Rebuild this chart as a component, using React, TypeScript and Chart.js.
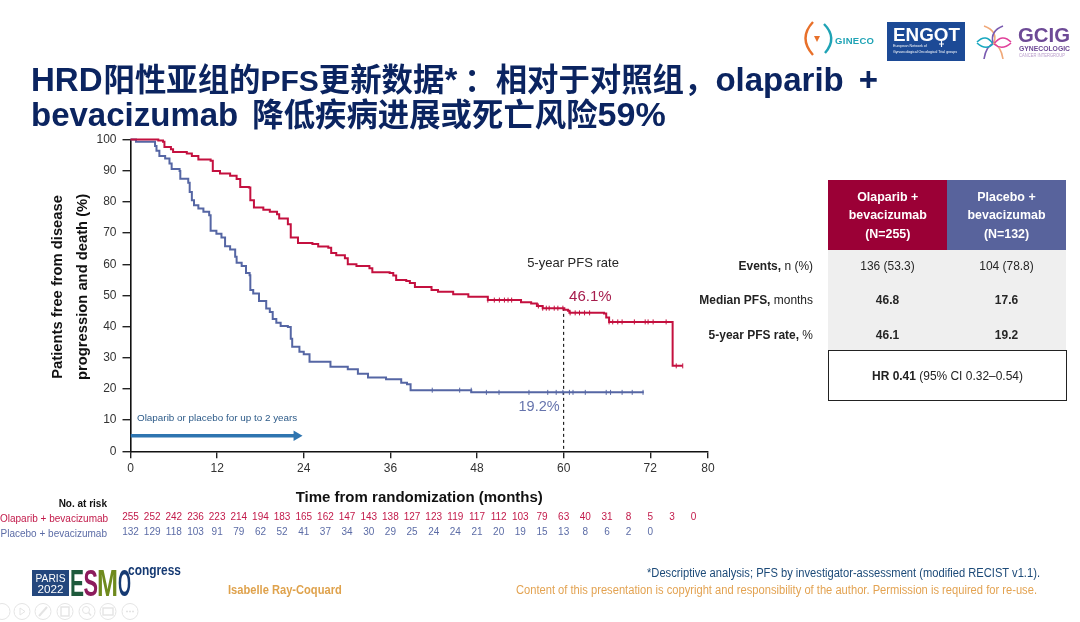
import React, { useEffect, useRef } from "react";
import { Chart, registerables } from "chart.js";

Chart.register(...registerables);

const SANS = '"Liberation Sans", Arial, "Noto Sans CJK SC", sans-serif';

const olaparibMonths = [0, 3.4, 3.85, 4.5, 4.7, 5.6, 5.9, 7.8, 8.5, 9.4, 11.1, 11.4, 12.4, 13.8, 14.7, 15.2, 16.4, 16.6, 17.1, 18.4, 19.3, 20.3, 20.6, 21.8, 22.2, 23.2, 25.2, 26.0, 27.4, 27.8, 28.5, 29.7, 30.1, 31.3, 33.1, 33.5, 35.9, 36.4, 36.8, 38.2, 38.7, 39.4, 41.7, 42.6, 44.7, 46.8, 49.5, 54.1, 55.5, 56.3, 57.1, 60.1, 60.6, 60.8, 65.6, 65.9, 66.3, 75.1, 76.5];
const olaparibValues = [100, 100, 99.7, 99.3, 97.6, 96.9, 96.0, 95.5, 94.7, 93.6, 93.2, 89.9, 89.1, 88.4, 87.3, 84.8, 84.6, 80.5, 78.2, 77.5, 76.8, 76.0, 74.7, 72.8, 68.6, 66.8, 66.5, 65.7, 65.3, 63.6, 62.9, 61.9, 60.0, 59.4, 58.7, 57.4, 57.2, 56.4, 54.9, 54.6, 54.0, 52.7, 51.7, 51.2, 50.4, 49.6, 48.5, 47.8, 47.4, 46.6, 45.9, 45.4, 45.1, 44.4, 44.2, 42.9, 41.5, 27.4, 27.4];
const placeboMonths = [0, 0.76, 3.4, 3.6, 4.0, 4.8, 5.4, 5.7, 6.8, 6.9, 8.0, 8.2, 8.5, 8.8, 9.4, 10.1, 10.9, 11.1, 11.9, 12.6, 13.1, 13.8, 14.5, 14.7, 15.4, 16.0, 16.5, 16.6, 17.0, 17.8, 18.8, 19.3, 19.7, 20.2, 20.8, 21.8, 22.2, 22.4, 23.4, 24.0, 24.8, 27.7, 30.1, 31.5, 32.9, 35.4, 37.5, 38.3, 38.8, 47.2, 71.1];
const placeboValues = [100, 99.3, 97.9, 96.4, 94.7, 93.9, 92.3, 90.5, 89.9, 87.4, 86.1, 83.2, 80.5, 78.9, 77.9, 76.8, 75.7, 70.7, 69.8, 68.6, 65.8, 64.7, 62.4, 60.5, 59.4, 57.2, 56.5, 51.7, 50.6, 48.2, 45.8, 44.7, 42.4, 41.2, 40.2, 39.9, 36.1, 33.5, 31.9, 31.1, 28.7, 27.1, 26.3, 24.9, 23.7, 23.1, 22.0, 21.5, 19.6, 18.9, 18.9];

const olaparibCensorMonths = [49.5, 50.4, 51.1, 51.8, 52.3, 52.8, 56.5, 57.1, 57.6, 58.0, 58.7, 59.2, 59.9, 60.9, 61.6, 62.2, 62.9, 63.6, 66.3, 66.8, 67.5, 68.1, 69.8, 71.3, 71.7, 72.4, 74.2, 75.6, 76.5];
const olaparibCensorValues = [48.5, 48.5, 48.5, 48.5, 48.5, 48.5, 46.6, 45.9, 45.9, 45.9, 45.9, 45.9, 45.9, 44.4, 44.4, 44.4, 44.4, 44.4, 41.5, 41.5, 41.5, 41.5, 41.5, 41.5, 41.5, 41.5, 41.5, 27.4, 27.4];
const placeboCensorMonths = [41.8, 45.6, 47.2, 49.3, 51.05, 55.2, 57.8, 58.97, 59.9, 60.8, 61.3, 63.0, 65.9, 66.5, 68.1, 69.5, 71.0];
const placeboCensorValues = [19.6, 19.6, 19.6, 18.9, 18.9, 18.9, 18.9, 18.9, 18.9, 18.9, 18.9, 18.9, 18.9, 18.9, 18.9, 18.9, 18.9];

const xTickValues = [0, 12, 24, 36, 48, 60, 72, 80];
const landmarkMonths = [60, 60];
const landmarkValues = [46, 0];
const treatmentMonths = [0, 23.0];
const treatmentValues = [5, 5];

const atRiskMonths = [0, 3, 6, 9, 12, 15, 18, 21, 24, 27, 30, 33, 36, 39, 42, 45, 48, 51, 54, 57, 60, 63, 66, 69, 72, 75, 78];
const olaparibAtRisk = [255, 252, 242, 236, 223, 214, 194, 183, 165, 162, 147, 143, 138, 127, 123, 119, 117, 112, 103, 79, 63, 40, 31, 8, 5, 3, 0];
const placeboAtRisk = [132, 129, 118, 103, 91, 79, 62, 52, 41, 37, 34, 30, 29, 25, 24, 24, 21, 20, 19, 15, 13, 8, 6, 2, 0];

const yTitleLines = ["Patients free from disease", "progression and death (%)"];

const RED = "#c4103f";
const BLUE = "#5566a4";

const zip = (xs: number[], ys: number[]) => xs.map((x, i) => ({ x, y: ys[i] }));

const overlayPlugin = {
  id: "overlay",
  afterDatasetsDraw(chart: any) {
    const { ctx, scales } = chart;
    const x = scales.x;
    const y = scales.y;
    ctx.save();
    ctx.textBaseline = "middle";
    ctx.textAlign = "center";
    ctx.font = `10px ${SANS}`;
    ctx.fillStyle = "#c21a4a";
    olaparibAtRisk.forEach((n, i) => ctx.fillText(String(n), x.getPixelForValue(atRiskMonths[i]), 517.5));
    ctx.fillStyle = "#5c6ca6";
    placeboAtRisk.forEach((n, i) => ctx.fillText(String(n), x.getPixelForValue(atRiskMonths[i]), 532.5));
    ctx.font = `15px ${SANS}`;
    ctx.fillStyle = "#a61c4c";
    ctx.fillText("46.1%", x.getPixelForValue(63.7), y.getPixelForValue(49.6));
    ctx.font = `14.5px ${SANS}`;
    ctx.fillStyle = "#6674ad";
    ctx.fillText("19.2%", x.getPixelForValue(56.6), y.getPixelForValue(14.2));
    ctx.font = `13px ${SANS}`;
    ctx.fillStyle = "#262626";
    ctx.fillText("5-year PFS rate", x.getPixelForValue(61.3), y.getPixelForValue(60.3));
    ctx.font = `9.9px ${SANS}`;
    ctx.fillStyle = "#2c5a88";
    ctx.textAlign = "left";
    ctx.fillText("Olaparib or placebo for up to 2 years", x.getPixelForValue(0.9), y.getPixelForValue(10.5));
    ctx.save();
    ctx.translate(58, y.getPixelForValue(50) - 8.5);
    ctx.rotate(-Math.PI / 2);
    ctx.textAlign = "center";
    ctx.font = `bold 14.75px ${SANS}`;
    ctx.fillStyle = "#111";
    yTitleLines.forEach((t, i) => ctx.fillText(t, 0, i * 25));
    ctx.restore();
    ctx.restore();
  },
};

const abs = (left: number, top: number, extra: React.CSSProperties = {}): React.CSSProperties => ({
  position: "absolute",
  left,
  top,
  whiteSpace: "nowrap",
  fontFamily: SANS,
  ...extra,
});

const narrow = (origin: string, k = 0.92): React.CSSProperties => ({ transform: `scaleX(${k})`, transformOrigin: origin });

const rowLabel = (top: number, bold: string, rest: string) => (
  <div style={abs(613, top, { width: 200, textAlign: "right", fontSize: 13, lineHeight: "16px", color: "#222", ...narrow("right center") })}>
    <b>{bold}</b>
    {rest}
  </div>
);

const cell = (left: number, top: number, text: string, bold: boolean) => (
  <div style={abs(left, top, { width: 119, textAlign: "center", fontSize: 13, lineHeight: "16px", color: "#262626", fontWeight: bold ? 700 : 400, ...narrow("center center") })}>{text}</div>
);

const navX = [2, 22, 43, 65, 87, 108, 130];

const Cjk = ({ children, ml = 0 }: { children: React.ReactNode; ml?: number }) => (
  <span style={{ fontSize: 31.4, fontFamily: '"Noto Sans CJK SC", sans-serif', marginLeft: ml }}>{children}</span>
);

export default function App() {
  const ref = useRef<HTMLCanvasElement>(null);
  useEffect(() => {
    const chart = new Chart(ref.current as HTMLCanvasElement, {
      type: "line",
      data: {
        datasets: [
          { label: "Olaparib + bevacizumab", data: zip(olaparibMonths, olaparibValues), borderColor: RED, borderWidth: 2, stepped: "before", pointRadius: 0, clip: false },
          { label: "Olaparib censored", type: "scatter", data: zip(olaparibCensorMonths, olaparibCensorValues), showLine: false, pointStyle: "line", rotation: 90, pointRadius: 2.5, borderColor: RED, pointBorderWidth: 1, clip: false },
          { label: "Placebo + bevacizumab", data: zip(placeboMonths, placeboValues), borderColor: BLUE, borderWidth: 2, stepped: "before", pointRadius: 0, clip: false },
          { label: "Placebo censored", type: "scatter", data: zip(placeboCensorMonths, placeboCensorValues), showLine: false, pointStyle: "line", rotation: 90, pointRadius: 2.5, borderColor: BLUE, pointBorderWidth: 1, clip: false },
          { label: "5-year", data: zip(landmarkMonths, landmarkValues), borderColor: "#111", borderWidth: 1.1, borderDash: [3, 3], pointRadius: 0 },
          {
            label: "Treatment",
            data: zip(treatmentMonths, treatmentValues),
            borderColor: "#2e75b0",
            backgroundColor: "#2e75b0",
            borderWidth: 3.5,
            pointStyle: "triangle",
            rotation: 90,
            pointRadius: [0, 6],
            pointBorderWidth: 0,
          },
        ] as any,
      },
      options: {
        responsive: false,
        animation: false,
        parsing: { xAxisKey: "x", yAxisKey: "y" },
        layout: { padding: { left: 0, right: 372, top: 139.5, bottom: 110.7 } },
        plugins: { legend: { display: false }, tooltip: { enabled: false }, title: { display: false } },
        scales: {
          x: {
            type: "linear",
            min: 0,
            max: 80,
            afterBuildTicks: (s: any) => {
              s.ticks = xTickValues.map((value) => ({ value }));
            },
            afterFit: (s: any) => {
              s.height = 60;
            },
            ticks: { autoSkip: false, maxRotation: 0, color: "#333", font: { family: SANS, size: 12 }, padding: 3 },
            grid: { drawOnChartArea: false, drawTicks: true, tickLength: 7, color: "#222", lineWidth: 1.4 },
            border: { color: "#111", width: 1.6 },
            title: { display: true, text: "Time from randomization (months)", color: "#111", font: { family: SANS, size: 15, weight: "bold" }, padding: { top: 0, bottom: 4 } },
          },
          y: {
            min: 0,
            max: 100,
            afterFit: (s: any) => {
              s.width = 130.5;
            },
            ticks: { stepSize: 10, color: "#333", font: { family: SANS, size: 12 }, padding: 6 },
            grid: { drawOnChartArea: false, drawTicks: true, tickLength: 8, color: "#222", lineWidth: 1.4 },
            border: { color: "#111", width: 1.6 },
          },
        },
      } as any,
      plugins: [overlayPlugin],
    });
    return () => chart.destroy();
  }, []);

  return (
    <div style={{ position: "absolute", left: 0, top: 0, width: 1080, height: 622, overflow: "hidden", background: "#fff" }}>
      <canvas ref={ref} width={1080} height={622} style={{ position: "absolute", left: 0, top: 0, display: "block" }} />

      {/* Title */}
      <div style={abs(31, 60, { fontSize: 33, fontWeight: 700, lineHeight: "36px", color: "#0b2460" })}>
        HRD
        <Cjk ml={1}>阳性亚组的</Cjk>
        <span style={{ fontSize: 30 }}>PFS</span>
        <Cjk>更新数据</Cjk>*
        <Cjk ml={7}>：相对于对照组，</Cjk>
        olaparib
        <span style={{ marginLeft: 15 }}>+</span>
      </div>
      <div style={abs(31, 95, { fontSize: 33, fontWeight: 700, lineHeight: "36px", color: "#0b2460" })}>
        bevacizumab
        <Cjk ml={14}>降低疾病进展或死亡风险</Cjk>
        <span style={{ fontSize: 34 }}>59%</span>
      </div>

      {/* Logos */}
      <svg style={{ position: "absolute", left: 800, top: 18 }} width={280} height={46}>
        <path d="M13 4 Q-2 20 13 37" stroke="#e8702a" strokeWidth="2.4" fill="none" />
        <path d="M24 6 Q38 20 25 35" stroke="#1fa3b5" strokeWidth="2.4" fill="none" />
        <path d="M14 18 L20 18 L17 24 Z" fill="#e8702a" />
        <text x="35" y="26" fontFamily={SANS} fontWeight="700" fontSize="9.5" fill="#1fa3b5" textLength="39">GINECO</text>
        <rect x="87" y="4" width="78" height="39" fill="#1c4a96" />
        <text x="93" y="23" fontFamily={SANS} fontWeight="700" fontSize="19" fill="#fff" textLength="67" lengthAdjust="spacingAndGlyphs">ENGOT</text>
        <path d="M141.5 23 L141.5 29 M139 26 L144 26" stroke="#fff" strokeWidth="1.2" />
        <text x="93" y="29" fontFamily={SANS} fontSize="3.6" fill="#fff">European Network of</text>
        <text x="93" y="35" fontFamily={SANS} fontSize="3.6" fill="#fff">Gynaecological Oncological Trial groups</text>
        <g fill="none" strokeWidth="1.6">
          <path d="M184 8 Q198 13 194 25" stroke="#f0a878" />
          <path d="M203 8 Q190 13 193 25" stroke="#7a5bb0" />
          <path d="M177 24 Q186 15 193 26" stroke="#19a8c0" />
          <path d="M211 24 Q202 15 194 26" stroke="#e0409a" />
          <path d="M184 41 Q186 28 194 25" stroke="#7a5bb0" />
          <path d="M203 41 Q201 28 193 25" stroke="#f0a878" />
          <path d="M177 25 Q186 33 193 26" stroke="#19a8c0" />
          <path d="M211 25 Q202 33 194 26" stroke="#e0409a" />
        </g>
        <text x="218" y="24" fontFamily={SANS} fontWeight="700" fontSize="21" fill="#6d4a96" textLength="52" lengthAdjust="spacingAndGlyphs">GCIG</text>
        <text x="219" y="33" fontFamily={SANS} fontWeight="700" fontSize="7" fill="#6d4a96" textLength="51" lengthAdjust="spacingAndGlyphs">GYNECOLOGIC</text>
        <text x="219" y="38.5" fontFamily={SANS} fontSize="4.6" fill="#b79ac9" textLength="46" lengthAdjust="spacingAndGlyphs">CANCER INTERGROUP</text>
      </svg>

      {/* Table */}
      <div style={abs(827.5, 180, { width: 119.5, height: 69.5, background: "#9b0036" })} />
      <div style={abs(947, 180, { width: 119, height: 69.5, background: "#58639c" })} />
      <div style={abs(827.5, 249.5, { width: 238.5, height: 100.5, background: "#efefef" })} />
      <div style={abs(827.5, 188, { width: 119.5, textAlign: "center", color: "#fff", fontWeight: 700, fontSize: 13.5, lineHeight: "18.3px", ...narrow("center center") })}>
        Olaparib +<br />bevacizumab<br />(N=255)
      </div>
      <div style={abs(947, 188, { width: 119, textAlign: "center", color: "#fff", fontWeight: 700, fontSize: 13.5, lineHeight: "18.3px", ...narrow("center center") })}>
        Placebo +<br />bevacizumab<br />(N=132)
      </div>
      {rowLabel(258, "Events,", " n (%)")}
      {rowLabel(292, "Median PFS,", " months")}
      {rowLabel(327, "5-year PFS rate,", " %")}
      {cell(827.5, 258, "136 (53.3)", false)}
      {cell(947, 258, "104 (78.8)", false)}
      {cell(827.5, 292, "46.8", true)}
      {cell(947, 292, "17.6", true)}
      {cell(827.5, 327, "46.1", true)}
      {cell(947, 327, "19.2", true)}
      <div style={abs(827.5, 350, { width: 239, height: 51, boxSizing: "border-box", border: "1.5px solid #222", background: "#fff" })} />
      <div style={abs(827.5, 350, { width: 239, height: 51, textAlign: "center", fontSize: 13, lineHeight: "51px", color: "#222", ...narrow("center center") })}>
        <b>HR 0.41</b> (95% CI 0.32–0.54)
      </div>

      {/* At-risk labels */}
      <div style={abs(0, 497, { width: 107, textAlign: "right", fontSize: 10, lineHeight: "13px", fontWeight: 700, color: "#111" })}>No. at risk</div>
      <div style={abs(0, 511.5, { width: 107, textAlign: "right", fontSize: 10, lineHeight: "13px", color: "#c21a4a" })}>Olaparib + bevacizumab</div>
      <div style={abs(0, 526.5, { width: 107, textAlign: "right", fontSize: 10, lineHeight: "13px", color: "#5c6ca6" })}>Placebo + bevacizumab</div>

      {/* Footer */}
      <svg style={{ position: "absolute", left: 30, top: 560 }} width={160} height={40}>
        <rect x="2" y="10" width="37" height="26" fill="#24477d" />
        <text x="20.5" y="21.5" textAnchor="middle" fontFamily={SANS} fontSize="11" fill="#fff" textLength="30" lengthAdjust="spacingAndGlyphs">PARIS</text>
        <text x="20.5" y="33" textAnchor="middle" fontFamily={SANS} fontSize="11" fill="#fff" textLength="26" lengthAdjust="spacingAndGlyphs">2022</text>
        <text x="40" y="36" fontFamily={SANS} fontWeight="700" fontSize="36" fill="#1e5a3c" textLength="14" lengthAdjust="spacingAndGlyphs">E</text>
        <text x="53.5" y="36" fontFamily={SANS} fontWeight="700" fontSize="36" fill="#8c1c5c" textLength="14.5" lengthAdjust="spacingAndGlyphs">S</text>
        <text x="67" y="36" fontFamily={SANS} fontWeight="700" fontSize="36" fill="#6f8a1e" textLength="21" lengthAdjust="spacingAndGlyphs">M</text>
        <text x="88" y="36" fontFamily={SANS} fontWeight="700" fontSize="36" fill="#163a73" textLength="13" lengthAdjust="spacingAndGlyphs">O</text>
        <text x="98" y="15" fontFamily={SANS} fontWeight="700" fontSize="15" fill="#163a73" textLength="53" lengthAdjust="spacingAndGlyphs">congress</text>
      </svg>
      <svg style={{ position: "absolute", left: 0, top: 600 }} width={150} height={22}>
        {navX.map((cx) => (
          <circle key={cx} cx={cx} cy={11.5} r={8} fill="none" stroke="#e4e4e4" strokeWidth="1" />
        ))}
        <path d="M20 8 L25 11.5 L20 15 Z" fill="none" stroke="#e4e4e4" />
        <path d="M39 16 L47 7" stroke="#e4e4e4" strokeWidth="2" />
        <rect x="61" y="7" width="8" height="9" fill="none" stroke="#e4e4e4" strokeWidth="1.4" />
        <circle cx="86" cy="10" r="3.5" fill="none" stroke="#e4e4e4" />
        <path d="M88.5 12.5 L91 15.5" stroke="#e4e4e4" strokeWidth="1.4" />
        <rect x="103" y="8" width="10" height="7" fill="none" stroke="#e4e4e4" strokeWidth="1.4" />
        <path d="M126 11.5 H134" stroke="#e4e4e4" strokeWidth="1.6" strokeDasharray="2 1" />
      </svg>
      <div style={abs(228, 583, { fontSize: 12.5, lineHeight: "14px", fontWeight: 700, color: "#dfa24c", ...narrow("left center", 0.89) })}>Isabelle Ray-Coquard</div>
      <div style={abs(440, 566, { width: 600, textAlign: "right", fontSize: 12, lineHeight: "14px", color: "#1c4a78", ...narrow("right center", 0.93) })}>
        *Descriptive analysis; PFS by investigator-assessment (modified RECIST v1.1).
      </div>
      <div style={abs(337, 583, { width: 700, textAlign: "right", fontSize: 12, lineHeight: "14px", color: "#e3a352", ...narrow("right center", 0.93) })}>
        Content of this presentation is copyright and responsibility of the author. Permission is required for re-use.
      </div>
    </div>
  );
}
